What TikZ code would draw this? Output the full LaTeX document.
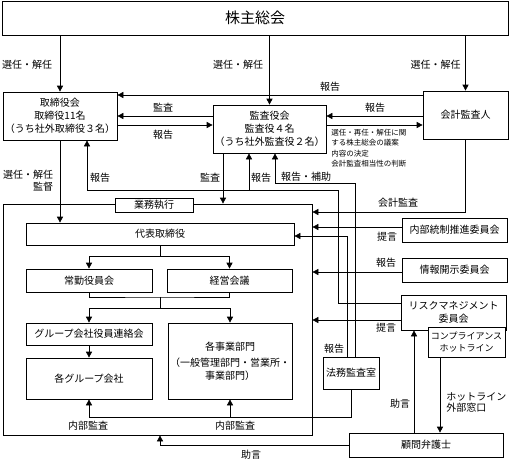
\documentclass[tikz,border=0pt]{standalone}
\usepackage{fontspec}
\setmainfont{Noto Sans CJK JP}
\usetikzlibrary{arrows.meta}

\begin{document}
\begin{tikzpicture}[x=1pt,y=-1pt,line width=0.7pt,
  box/.style={draw,fill=white,inner sep=0pt,align=center,font=\fontsize{10}{13}\selectfont},
  lbl/.style={inner sep=0pt,font=\fontsize{10}{12}\selectfont},
  arr/.style={-{Triangle[length=6pt,width=6pt]}}]
\useasboundingbox (0,0) rectangle (510,460);

\node[box,minimum width=506pt,minimum height=34pt,font=\fontsize{15}{18}\selectfont] (soukai) at (255,18) {株主総会};
\node[box,minimum width=114pt,minimum height=48pt] (torishimari) at (60,116) {取締役会\\取締役11名\\（うち社外取締役３名）};
\node[box,minimum width=113pt,minimum height=48pt] (kansa) at (269.5,129) {監査役会\\監査役４名\\（うち社外監査役２名）};
\node[box,minimum width=85pt,minimum height=48pt] (kaikei) at (465.5,115) {会計監査人};
\node[draw,minimum width=309pt,minimum height=231pt,inner sep=0pt] (gyomu) at (157.5,319.5) {};
\node[box,minimum width=78pt,minimum height=14pt] (gyomulbl) at (154,205) {業務執行};
\node[box,minimum width=268pt,minimum height=22pt] (daihyo) at (160,234) {代表取締役};
\node[box,minimum width=126pt,minimum height=23pt] (joukin) at (89,280.5) {常勤役員会};
\node[box,minimum width=125pt,minimum height=23pt] (keiei) at (229.5,280.5) {経営会議};
\node[box,minimum width=126pt,minimum height=22pt] (renraku) at (89,334) {グループ会社役員連絡会};
\node[box,minimum width=126pt,minimum height=41pt] (group) at (89,378.5) {各グループ会社};
\node[box,minimum width=124pt,minimum height=76pt] (jigyo) at (230,361) {各事業部門\\[3pt]（一般管理部門・営業所・\\事業部門）};
\node[box,minimum width=56pt,minimum height=32pt] (houmu) at (351,373) {法務監査室};
\node[box,minimum width=105pt,minimum height=24pt] (naibu) at (454.5,230) {内部統制推進委員会};
\node[box,minimum width=105pt,minimum height=24pt] (joho) at (454.5,270) {情報開示委員会};
\node[box,minimum width=105pt,minimum height=35pt] (risk) at (453.5,312.5) {リスクマネジメント\\委員会};
\node[box,minimum width=77pt,minimum height=30pt,font=\fontsize{9}{12}\selectfont] (hotline) at (466.5,342) {コンプライアンス\\ホットライン};
\node[box,minimum width=154pt,minimum height=24pt] (komon) at (426,445) {顧問弁護士};

\draw[arr] (soukai.south -| torishimari.north) -- (torishimari.north);
\draw[arr] (soukai.south -| kansa.north) -- (kansa.north);
\draw[arr] (soukai.south -| kaikei.north) -- (kaikei.north);
\draw[arr] (kaikei.west |- 0,95) -- (torishimari.east |- 0,95);
\draw[arr] (kansa.west |- 0,116) -- (torishimari.east |- 0,116);
\draw[arr] (torishimari.east |- 0,125) -- (kansa.west |- 0,125);
\draw[arr] (kaikei.west |- 0,116) -- (kansa.east |- 0,116);
\draw[arr] (kansa.east |- 0,125) -- (kaikei.west |- 0,125);
\draw[arr] (torishimari.south) -- (torishimari.south |- daihyo.north);
\coordinate (rptturn) at (338,190);
\draw[arr] (risk.west |- 0,303) -| (rptturn) -| (torishimari.south -| 87,0);
\draw[arr] (rptturn -| 249,0) -- (kansa.south -| 249,0);
\draw[arr] (kansa.south -| 223,0) -- (gyomu.north -| 223,0);
\draw[arr] (houmu.north -| 347,0) |- (daihyo.east |- 0,236);
\coordinate (hoturn) at (275,183);
\draw[arr] (houmu.north -| 355,0) |- (hoturn) -- (kansa.south -| hoturn);
\draw[arr] (kaikei.south) |- (gyomu.east |- 0,212);
\draw[arr] (naibu.west |- 0,227) -- (gyomu.east |- 0,227);
\draw[arr] (joho.west |- 0,272) -- (gyomu.east |- 0,272);
\draw[arr] (risk.west |- 0,320) -- (gyomu.east |- 0,320);
\coordinate (dsplit) at (160,256);
\draw (daihyo.south) -- (dsplit);
\draw[arr] (dsplit) -| (joukin.north);
\draw[arr] (dsplit) -| (keiei.north);
\coordinate (jmerge) at (160,297);
\coordinate (jsplit) at (160,308);
\draw (joukin.south) |- (jmerge) -| (keiei.south);
\draw (jmerge) -- (jsplit);
\draw[arr] (jsplit) -| (renraku.north);
\draw[arr] (jsplit) -| (jigyo.north);
\draw[arr] (renraku.south) -- (group.north);
\draw[arr] (houmu.south) |- (group.south |- 0,417) -- (group.south);
\draw[arr] (jigyo.south |- 0,417) -- (jigyo.south);
\draw[arr] (komon.west) -| (gyomu.south -| 160,0);
\draw[arr] (komon.north -| 414,0) -- (risk.south -| 414,0);
\draw[arr] (hotline.south -| 440,0) -- (komon.north -| 440,0);

\node[lbl] at (27,65) {選任・解任};
\node[lbl] at (238,65) {選任・解任};
\node[lbl] at (435.5,65) {選任・解任};
\node[lbl] at (330,87) {報告};
\node[lbl] at (163,108) {監査};
\node[lbl] at (163,135) {報告};
\node[lbl] at (375,108) {報告};
\node[lbl,anchor=north west,align=left,font=\fontsize{7.5}{10.3}\selectfont] at (331,129) {選任・再任・解任に関\\する株主総会の議案\\内容の決定\\会計監査相当性の判断};
\node[lbl,align=right] at (28,181) {選任・解任\\監督};
\node[lbl] at (100,178) {報告};
\node[lbl] at (261,178) {報告};
\node[lbl] at (210,178) {監査};
\node[lbl] at (306,177) {報告・補助};
\node[lbl] at (398,203) {会計監査};
\node[lbl] at (387,237) {提言};
\node[lbl] at (386,263) {報告};
\node[lbl] at (386,328) {提言};
\node[lbl] at (334,349) {報告};
\node[lbl] at (88,426) {内部監査};
\node[lbl] at (235,426) {内部監査};
\node[lbl] at (251,455) {助言};
\node[lbl] at (400,404) {助言};
\node[lbl,anchor=west,align=left,font=\fontsize{10}{11.5}\selectfont] at (446,402.5) {ホットライン\\外部窓口};
\end{tikzpicture}
\end{document}
